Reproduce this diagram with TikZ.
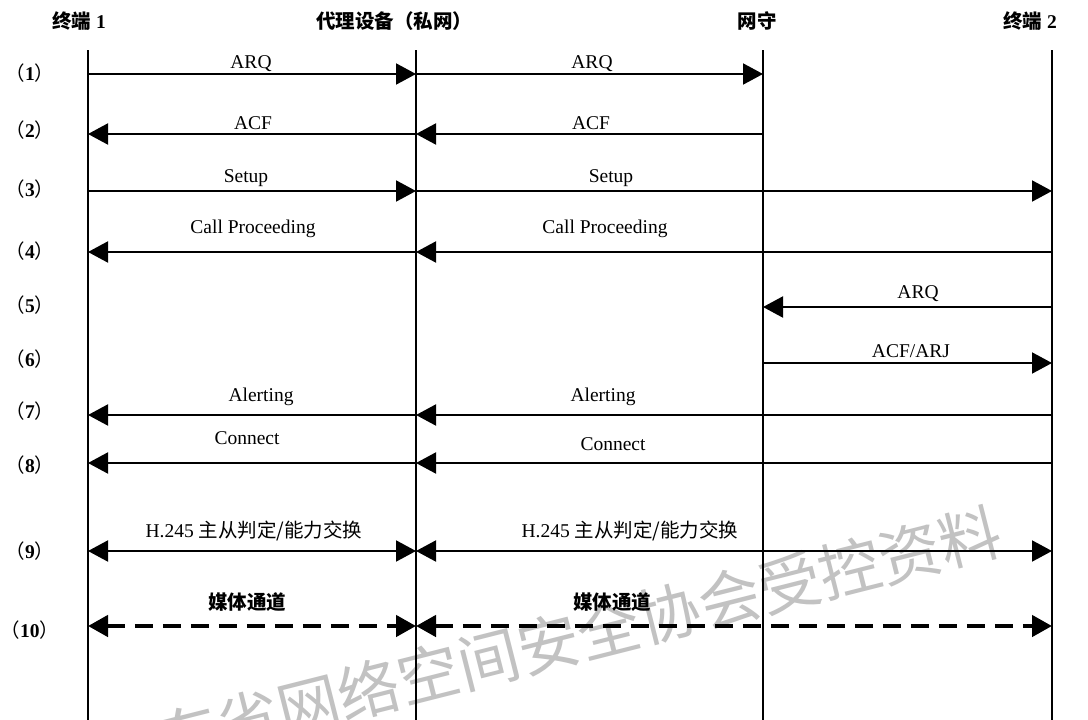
\documentclass[tikz,border=0pt]{standalone}
\usepackage{fontspec}
\setmainfont{Liberation Serif}
\newfontfamily\cjk{Noto Sans CJK SC}
\usetikzlibrary{arrows.meta}
\begin{document}
\begin{tikzpicture}[x=1pt,y=-1pt,
  font=\fontsize{19.5}{22}\selectfont,
  life/.style={line width=1.8pt},
  tip/.tip={Triangle[length=20pt,width=21pt]},
  msg/.style={line width=2pt,-tip},
  bimsg/.style={line width=2pt,tip-tip},
  media/.style={line width=4.5pt,dash pattern=on 18pt off 10pt,tip-tip},
  lbl/.style={anchor=base,inner sep=0pt},
  head/.style={anchor=center,inner sep=0pt},
  rowlbl/.style={anchor=center,inner sep=0pt},
  wmark/.style={text=black!24,font=\cjk\fontsize{62}{62}\selectfont,rotate=14.2,inner sep=0pt}
]
\useasboundingbox[fill=white] (0,0) rectangle (1088,720);

% watermark
\node[wmark] (wm) at (579,636) {东省网络空间安全协会受控资料};

% lifelines
\coordinate (L1) at (88,50);
\coordinate (L2) at (416,50);
\coordinate (L3) at (763,50);
\coordinate (L4) at (1052,50);
\coordinate (E1) at (88,720);
\coordinate (E2) at (416,720);
\coordinate (E3) at (763,720);
\coordinate (E4) at (1052,720);
\draw[life] (L1) -- (E1);
\draw[life] (L2) -- (E2);
\draw[life] (L3) -- (E3);
\draw[life] (L4) -- (E4);

% headers
\node[head] (h1) at (79,21) {{\cjk\bfseries 终端} \textbf{1}};
\node[head] (h2) at (394,21) {{\cjk\bfseries 代理设备（私网）}};
\node[head] (h3) at (757,21) {{\cjk\bfseries 网守}};
\node[head] (h4) at (1030,21) {{\cjk\bfseries 终端} \textbf{2}};

% row labels
\node[rowlbl] (n1) at (30,73) {{\cjk （}\textbf{1}{\cjk ）}};
\node[rowlbl] (n2) at (30,130) {{\cjk （}\textbf{2}{\cjk ）}};
\node[rowlbl] (n3) at (30,189) {{\cjk （}\textbf{3}{\cjk ）}};
\node[rowlbl] (n4) at (30,251) {{\cjk （}\textbf{4}{\cjk ）}};
\node[rowlbl] (n5) at (30,305) {{\cjk （}\textbf{5}{\cjk ）}};
\node[rowlbl] (n6) at (30,359) {{\cjk （}\textbf{6}{\cjk ）}};
\node[rowlbl] (n7) at (30,411) {{\cjk （}\textbf{7}{\cjk ）}};
\node[rowlbl] (n8) at (30,465) {{\cjk （}\textbf{8}{\cjk ）}};
\node[rowlbl] (n9) at (30,551) {{\cjk （}\textbf{9}{\cjk ）}};
\node[rowlbl] (n10) at (30,630) {{\cjk （}\textbf{10}{\cjk ）}};

% row y coordinates
\coordinate (r1) at (0,74);
\coordinate (r2) at (0,134);
\coordinate (r3) at (0,191);
\coordinate (r4) at (0,252);
\coordinate (r5) at (0,307);
\coordinate (r6) at (0,363);
\coordinate (r7) at (0,415);
\coordinate (r8) at (0,463);
\coordinate (r9) at (0,551);
\coordinate (r10) at (0,626);

% messages
\draw[msg] (L1|-r1) -- (L2|-r1);
\draw[msg] (L2|-r1) -- (L3|-r1);
\draw[msg] (L3|-r2) -- (L2|-r2);
\draw[msg] (L2|-r2) -- (L1|-r2);
\draw[msg] (L1|-r3) -- (L2|-r3);
\draw[msg] (L2|-r3) -- (L4|-r3);
\draw[msg] (L4|-r4) -- (L2|-r4);
\draw[msg] (L2|-r4) -- (L1|-r4);
\draw[msg] (L4|-r5) -- (L3|-r5);
\draw[msg] (L3|-r6) -- (L4|-r6);
\draw[msg] (L4|-r7) -- (L2|-r7);
\draw[msg] (L2|-r7) -- (L1|-r7);
\draw[msg] (L4|-r8) -- (L2|-r8);
\draw[msg] (L2|-r8) -- (L1|-r8);
\draw[bimsg] (L1|-r9) -- (L2|-r9);
\draw[bimsg] (L2|-r9) -- (L4|-r9);
\draw[media] (L1|-r10) -- (L2|-r10);
\draw[media] (L2|-r10) -- (L4|-r10);

% message labels
\node[lbl] (a1) at (251,68) {ARQ};
\node[lbl] (b1) at (592,68) {ARQ};
\node[lbl] (a2) at (253,129) {ACF};
\node[lbl] (b2) at (591,129) {ACF};
\node[lbl] (a3) at (246,182) {Setup};
\node[lbl] (b3) at (611,182) {Setup};
\node[lbl] (a4) at (253,233) {Call Proceeding};
\node[lbl] (b4) at (605,233) {Call Proceeding};
\node[lbl] (b5) at (918,298) {ARQ};
\node[lbl] (b6) at (911,357) {ACF/ARJ};
\node[lbl] (a7) at (261,401) {Alerting};
\node[lbl] (b7) at (603,401) {Alerting};
\node[lbl] (a8) at (247,444) {Connect};
\node[lbl] (b8) at (613,450) {Connect};
\node[lbl] (a9) at (254,537) {H.245 {\cjk 主从判定/能力交换}};
\node[lbl] (b9) at (630,537) {H.245 {\cjk 主从判定/能力交换}};
\node[lbl] (a10) at (247,609) {{\cjk\bfseries 媒体通道}};
\node[lbl] (b10) at (612,609) {{\cjk\bfseries 媒体通道}};
\end{tikzpicture}
\end{document}
